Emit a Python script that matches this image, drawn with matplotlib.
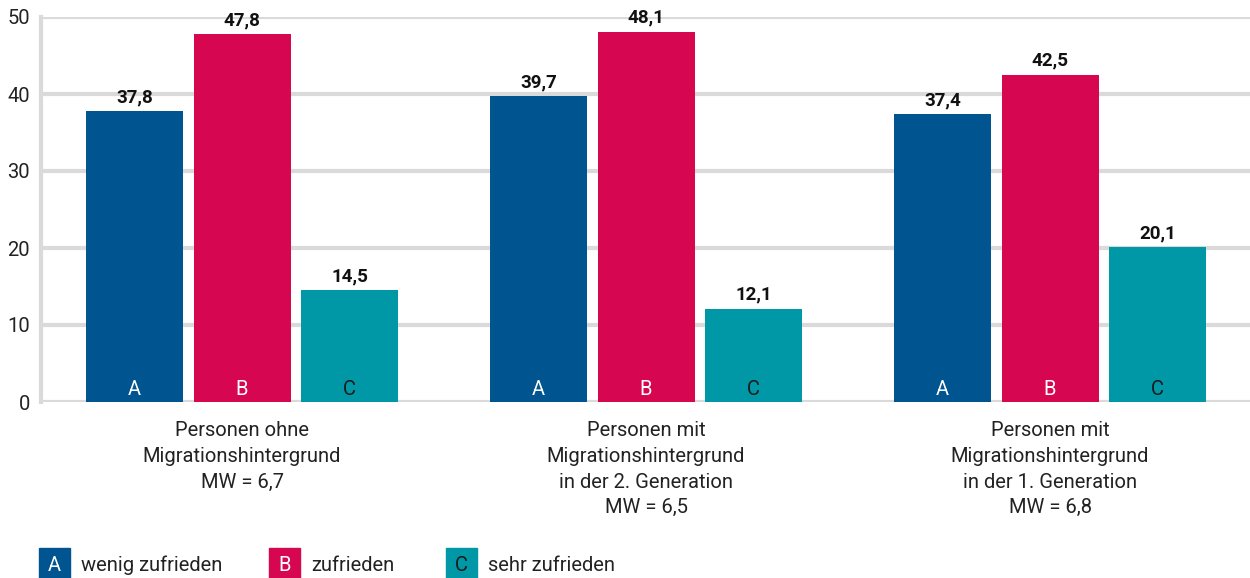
import matplotlib
matplotlib.use("Agg")
import matplotlib.pyplot as plt
from matplotlib.patches import Rectangle
import numpy as np

plt.rcParams["font.family"] = ["Roboto", "DejaVu Sans"]

groups = ["Personen ohne\nMigrationshintergrund\nMW = 6,7",
          "Personen mit\nMigrationshintergrund\nin der 2. Generation\nMW = 6,5",
          "Personen mit\nMigrationshintergrund\nin der 1. Generation\nMW = 6,8"]
letters = ["A", "B", "C"]
series = ["wenig zufrieden", "zufrieden", "sehr zufrieden"]
values = [[37.8, 39.7, 37.4],   # A
          [47.8, 48.1, 42.5],   # B
          [14.5, 12.1, 20.1]]   # C
colors = ["#00548F", "#D60650", "#0098A6"]
inner_txt = ["white", "white", "#1a1a1a"]
yticks = [0, 10, 20, 30, 40, 50]

PX = 72 / 100  # points per pixel
FS = 14.5

fig = plt.figure(figsize=(12.5, 5.78), dpi=100)
ax = fig.add_axes([41 / 1250, 1 - 402 / 578, 1 - 41 / 1250, 385 / 578])

x = np.arange(len(groups))
step, width = 107.5 / 404, 97 / 404
for i, (vals, col) in enumerate(zip(values, colors)):
    xs = x + (i - 1) * step
    ax.bar(xs, vals, width=width, color=col, zorder=3)
    for xi, v in zip(xs, vals):
        ax.annotate(f"{v:.1f}".replace(".", ","), (xi, v), xytext=(0, 9 * PX), textcoords="offset points",
                    ha="center", va="baseline", fontsize=13.5, fontweight="bold", color="#111111")
        ax.annotate(letters[i], (xi, 0), xytext=(0, 7 * PX), textcoords="offset points",
                    ha="center", va="baseline", fontsize=FS, color=inner_txt[i], zorder=4)

ax.set_xlim((41 - 242) / 404, (1250 - 242) / 404)
ax.set_ylim(0, 50)
ax.set_yticks(yticks)
ax.set_yticklabels([str(t) for t in yticks], fontsize=FS, color="#222222")
ax.tick_params(axis="y", length=0, pad=8)
ax.set_xticks([])
ax.grid(axis="y", color="#dadada", linewidth=3, zorder=0)
for s in ["top", "right", "bottom"]:
    ax.spines[s].set_visible(False)
ax.spines["left"].set_color("#dadada")
ax.spines["left"].set_linewidth(3)
ax.axhline(0, color="#dadada", linewidth=3.5, zorder=2)

for xi, lab in zip(x, groups):
    ax.annotate(lab, (xi, 0), xytext=(0, -19 * PX), textcoords="offset points", ha="center", va="top",
                fontsize=FS, color="#222222", linespacing=1.45, annotation_clip=False)

# legend
leg_x = [39, 269, 446]
for lx, let, name, col, tc in zip(leg_x, letters, series, colors, inner_txt):
    fig.patches.append(Rectangle((lx / 1250, 0), 31 / 1250, 30 / 578,
                                 transform=fig.transFigure, color=col))
    fig.text((lx + 15.5) / 1250, 1 - 571 / 578, let, ha="center", va="baseline", fontsize=FS, color=tc)
    fig.text((lx + 42) / 1250, 1 - 571 / 578, name, ha="left", va="baseline", fontsize=FS, color="#222222")

fig.savefig("out.png", dpi=100)
